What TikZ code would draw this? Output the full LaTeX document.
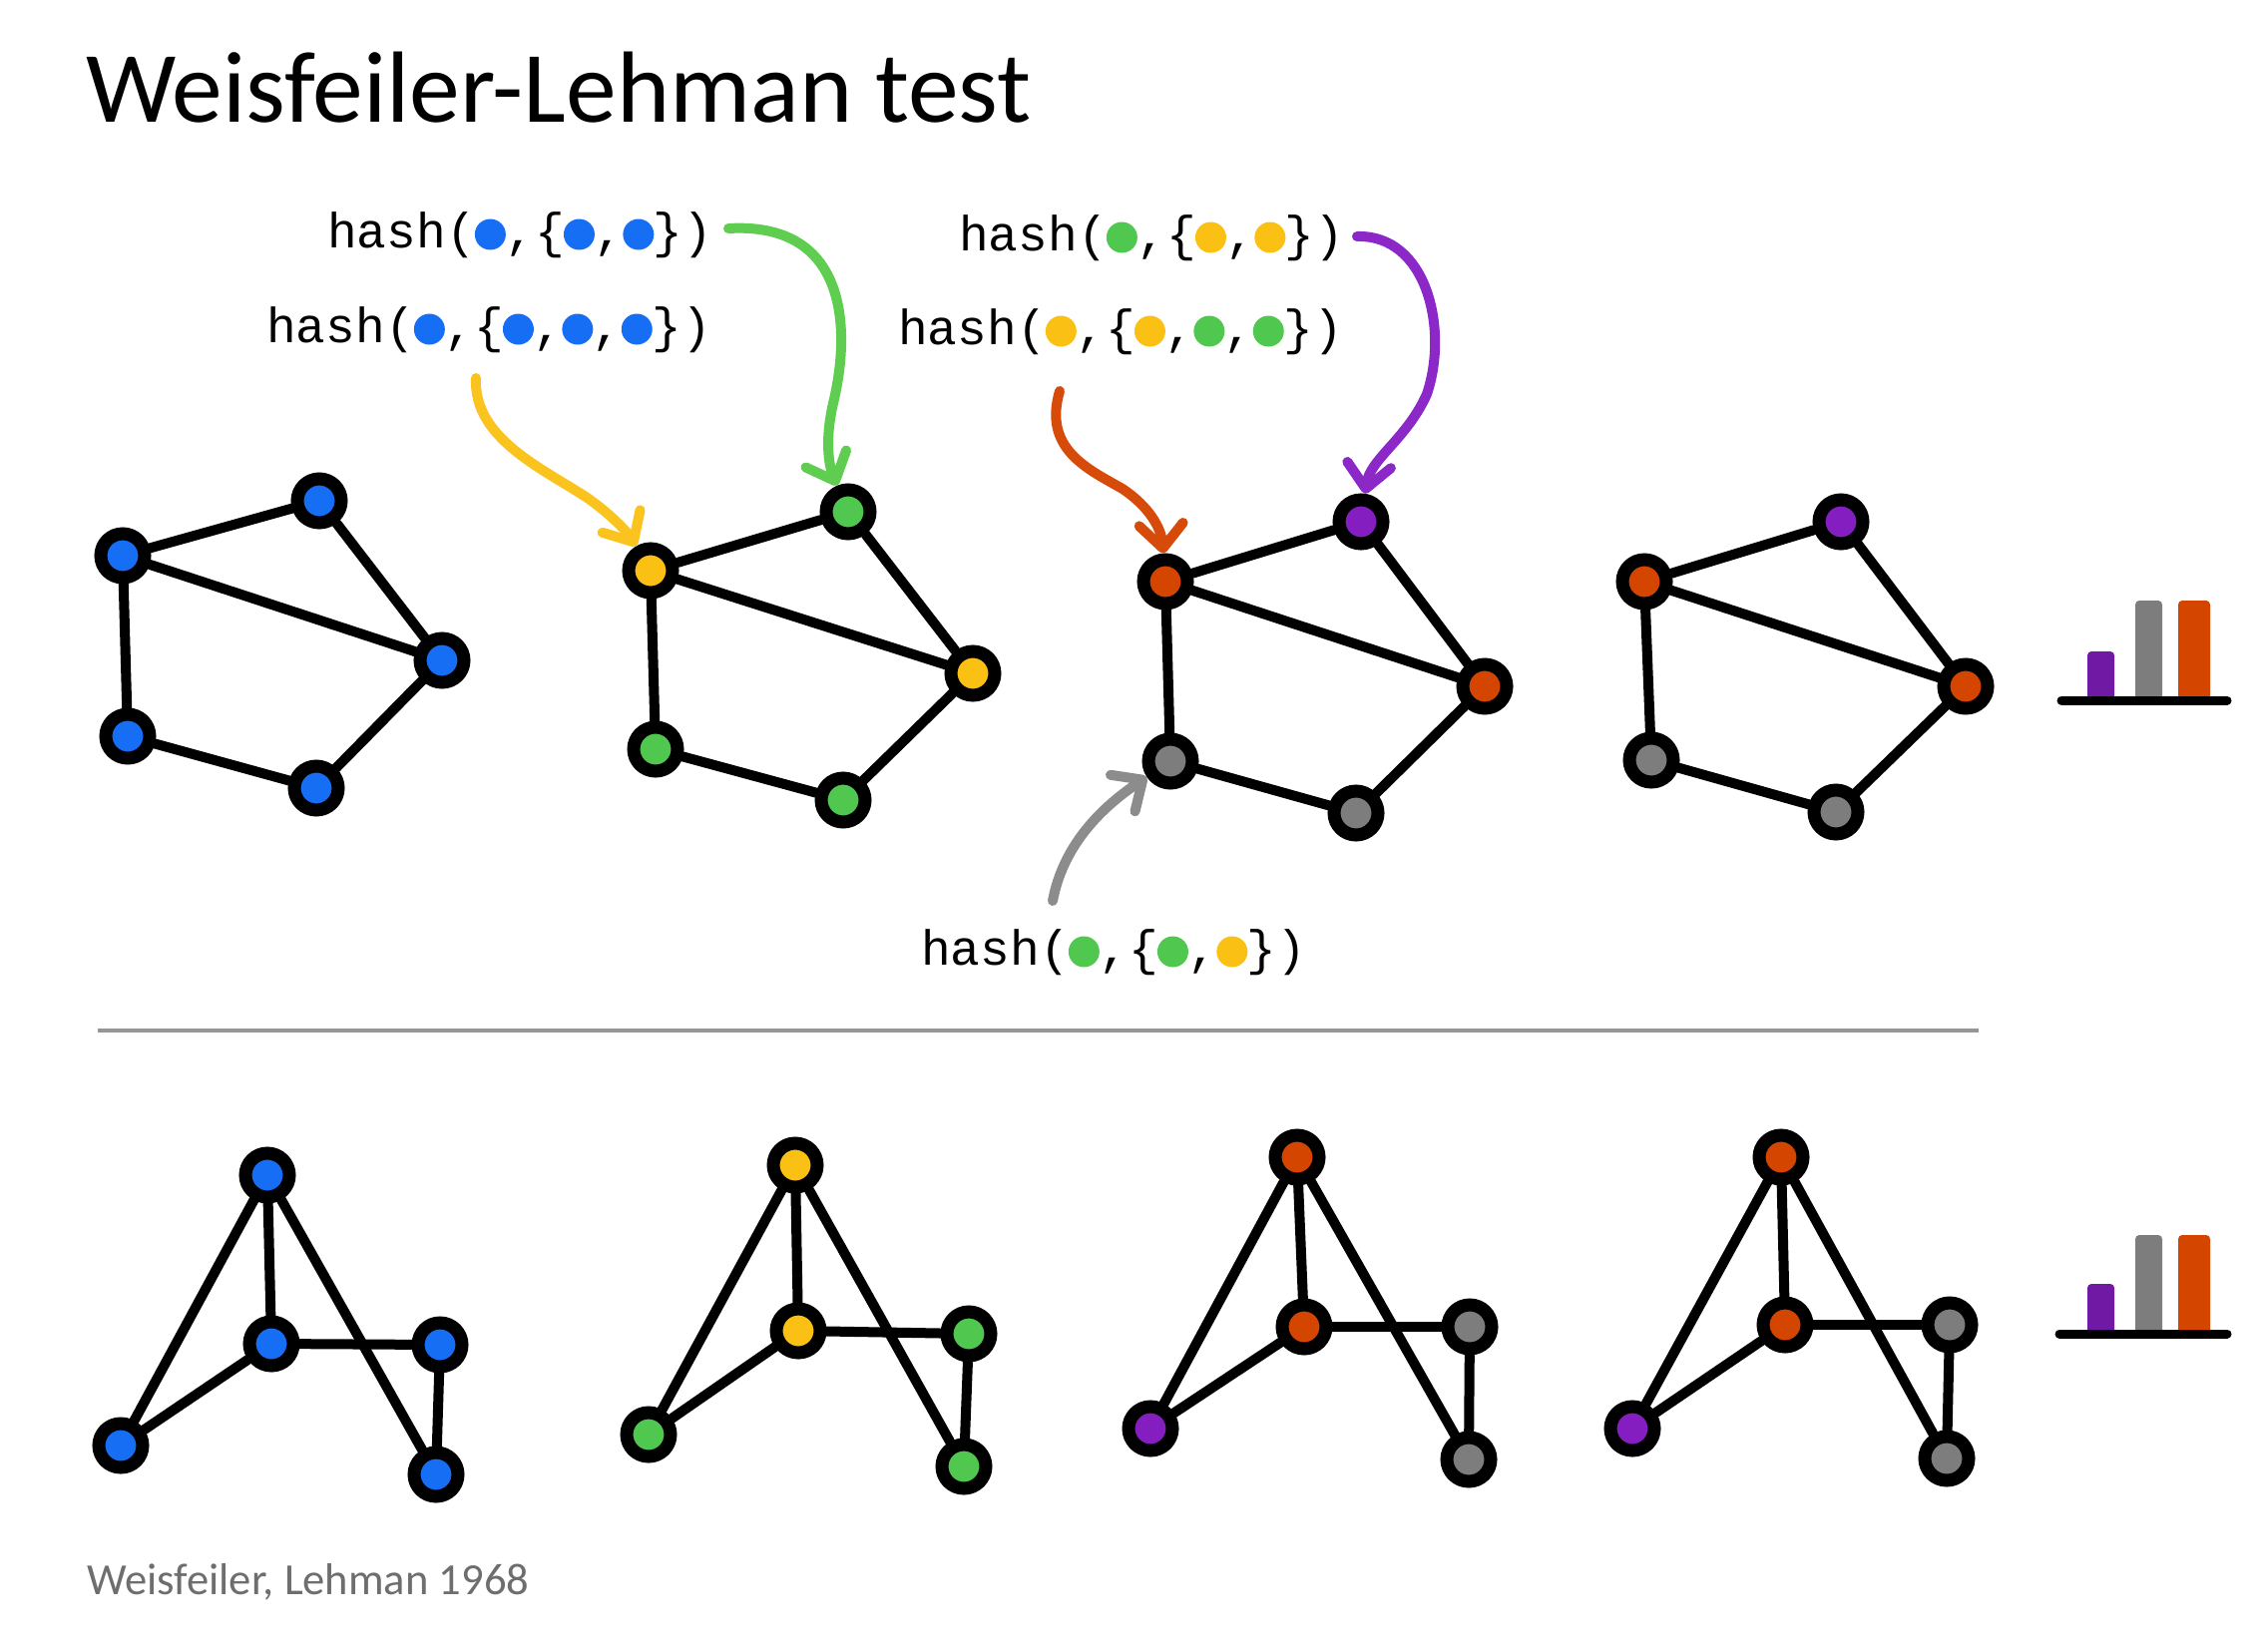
\documentclass[tikz,border=0pt]{standalone}
\usepackage{fontspec}
\setmainfont{Carlito}
\newfontfamily\handfont{Liberation Mono}
\usetikzlibrary{arrows.meta}
\definecolor{cblue}{RGB}{22,110,245}
\definecolor{cyellow}{RGB}{250,192,20}
\definecolor{cgreen}{RGB}{80,200,80}
\definecolor{corange}{RGB}{212,70,0}
\definecolor{cpurple}{RGB}{132,30,192}
\definecolor{cgray}{RGB}{125,125,125}
\definecolor{bpurple}{RGB}{112,25,165}
\definecolor{agreen}{RGB}{95,205,80}
\definecolor{ayellow}{RGB}{250,195,30}
\definecolor{aorange}{RGB}{215,75,10}
\definecolor{apurple}{RGB}{140,40,200}
\definecolor{agray}{RGB}{140,140,140}
\definecolor{footgray}{RGB}{110,110,110}
\definecolor{divgray}{RGB}{150,150,150}
\newcommand\hdot[3]{\fill[#3] ([shift={(#2*29.7+14.85,-13)}]#1.base west) circle (15.5);}
\newcommand\ph{\hphantom{o}}
\begin{document}
\begin{tikzpicture}[x=1pt,y=-1pt,
  gn/.style={circle,draw=black,line width=13pt,minimum size=44pt,inner sep=0pt},
  edge/.style={line width=10pt,line cap=round},
  hasharrow/.style={line width=10pt,line cap=round,line join=round,
    -{Straight Barb[length=24pt,width=44pt,line cap=round,line join=round]}},
  hashlabel/.style={anchor=base west,inner sep=0pt,font=\handfont\fontsize{49.5}{50}\selectfont},
  barstyle/.style={rounded corners=4pt},
]
\useasboundingbox (0,0) rectangle (2266,1656);

% title and footer
\node[anchor=base west,inner sep=0pt,font=\fontsize{101.5}{120}\selectfont] (title) at (86,123) {Weisfeiler-Lehman test};
\node[anchor=base west,inner sep=0pt,font=\fontsize{44.6}{50}\selectfont,text=footgray] (foot) at (87,1598) {Weisfeiler, Lehman 1968};

% ---------- top row graphs ----------
% graph 1
\node[gn,fill=cblue] (t1a) at (123,557) {};
\node[gn,fill=cblue] (t1b) at (320,502) {};
\node[gn,fill=cblue] (t1c) at (443,662) {};
\node[gn,fill=cblue] (t1d) at (128,738) {};
\node[gn,fill=cblue] (t1e) at (317,790) {};
% graph 2
\node[gn,fill=cyellow] (t2a) at (652,572) {};
\node[gn,fill=cgreen]  (t2b) at (850,513) {};
\node[gn,fill=cyellow] (t2c) at (975,675) {};
\node[gn,fill=cgreen]  (t2d) at (657,751) {};
\node[gn,fill=cgreen]  (t2e) at (845,802) {};
% graph 3
\node[gn,fill=corange] (t3a) at (1168,583) {};
\node[gn,fill=cpurple] (t3b) at (1364,523) {};
\node[gn,fill=corange] (t3c) at (1488,688) {};
\node[gn,fill=cgray]   (t3d) at (1173,763) {};
\node[gn,fill=cgray]   (t3e) at (1359,815) {};
% graph 4
\node[gn,fill=corange] (t4a) at (1648,583) {};
\node[gn,fill=cpurple] (t4b) at (1845,523) {};
\node[gn,fill=corange] (t4c) at (1970,688) {};
\node[gn,fill=cgray]   (t4d) at (1655,762) {};
\node[gn,fill=cgray]   (t4e) at (1840,814) {};

\foreach \g in {1,2,3,4}{
  \draw[edge] (t\g a) -- (t\g b);
  \draw[edge] (t\g b) -- (t\g c);
  \draw[edge] (t\g a) -- (t\g c);
  \draw[edge] (t\g a) -- (t\g d);
  \draw[edge] (t\g d) -- (t\g e);
  \draw[edge] (t\g e) -- (t\g c);
}

% ---------- bottom row graphs ----------
\node[gn,fill=cblue] (b1t) at (268,1178) {};
\node[gn,fill=cblue] (b1m) at (272,1347) {};
\node[gn,fill=cblue] (b1r) at (441,1348) {};
\node[gn,fill=cblue] (b1l) at (121,1449) {};
\node[gn,fill=cblue] (b1s) at (437,1478) {};

\node[gn,fill=cyellow] (b2t) at (797,1168) {};
\node[gn,fill=cyellow] (b2m) at (800,1334) {};
\node[gn,fill=cgreen]  (b2r) at (971,1337) {};
\node[gn,fill=cgreen]  (b2l) at (650,1438) {};
\node[gn,fill=cgreen]  (b2s) at (966,1470) {};

\node[gn,fill=corange] (b3t) at (1300,1160) {};
\node[gn,fill=corange] (b3m) at (1307,1330) {};
\node[gn,fill=cgray]   (b3r) at (1473,1330) {};
\node[gn,fill=cpurple] (b3l) at (1153,1432) {};
\node[gn,fill=cgray]   (b3s) at (1472,1463) {};

\node[gn,fill=corange] (b4t) at (1785,1160) {};
\node[gn,fill=corange] (b4m) at (1789,1328) {};
\node[gn,fill=cgray]   (b4r) at (1954,1328) {};
\node[gn,fill=cpurple] (b4l) at (1636,1432) {};
\node[gn,fill=cgray]   (b4s) at (1951,1462) {};

\foreach \g in {1,2,3,4}{
  \draw[edge] (b\g t) -- (b\g m);
  \draw[edge] (b\g t) -- (b\g l);
  \draw[edge] (b\g t) -- (b\g s);
  \draw[edge] (b\g m) -- (b\g l);
  \draw[edge] (b\g m) -- (b\g r);
  \draw[edge] (b\g r) -- (b\g s);
}

% ---------- hash labels ----------
\node[hashlabel] (h1) at (328,248) {hash(\ph,\{\ph,\ph\})};
\hdot{h1}{5}{cblue}\hdot{h1}{8}{cblue}\hdot{h1}{10}{cblue}
\node[hashlabel] (h2) at (267,343) {hash(\ph,\{\ph,\ph,\ph\})};
\hdot{h2}{5}{cblue}\hdot{h2}{8}{cblue}\hdot{h2}{10}{cblue}\hdot{h2}{12}{cblue}
\node[hashlabel] (h3) at (961,251) {hash(\ph,\{\ph,\ph\})};
\hdot{h3}{5}{cgreen}\hdot{h3}{8}{cyellow}\hdot{h3}{10}{cyellow}
\node[hashlabel] (h4) at (900,345) {hash(\ph,\{\ph,\ph,\ph\})};
\hdot{h4}{5}{cyellow}\hdot{h4}{8}{cyellow}\hdot{h4}{10}{cgreen}\hdot{h4}{12}{cgreen}
\node[hashlabel] (h5) at (923,967) {hash(\ph,\{\ph,\ph\})};
\hdot{h5}{5}{cgreen}\hdot{h5}{8}{cgreen}\hdot{h5}{10}{cyellow}

% ---------- arrows ----------
\coordinate (gs) at (730,229);
\coordinate (ys) at (477,379);
\coordinate (os) at (1062,392);
\coordinate (ps) at (1360,237);
\coordinate (ks) at (1055,903);
\draw[hasharrow,agreen] (gs) .. controls (850,222) and (852,330) .. (836,400)
  .. controls (825,445) and (832,470) .. (t2b);
\draw[hasharrow,ayellow] (ys) .. controls (474,440) and (545,470) .. (590,500)
  .. controls (615,518) and (630,535) .. (t2a);
\draw[hasharrow,aorange] (os) .. controls (1045,450) and (1090,470) .. (1125,490)
  .. controls (1152,508) and (1164,530) .. (t3a);
\draw[hasharrow,apurple] (ps) .. controls (1430,235) and (1452,330) .. (1430,395)
  .. controls (1410,440) and (1373,460) .. (t3b);
\draw[hasharrow,agray] (ks) .. controls (1065,850) and (1100,812) .. (t3d);

% ---------- divider ----------
\coordinate (dl) at (98,1033);
\coordinate (dr) at (1983,1033);
\draw[divgray,line width=4pt] (dl) -- (dr);

% ---------- bar charts ----------
\fill[bpurple,barstyle] (2092,653) rectangle (2119,702);
\fill[cgray,barstyle]   (2140,602) rectangle (2167,702);
\fill[corange,barstyle] (2183,602) rectangle (2215,702);
\draw[line width=9pt,line cap=round] (2066,702) -- (2232,702);

\fill[bpurple,barstyle] (2092,1287) rectangle (2119,1337);
\fill[cgray,barstyle]   (2140,1238) rectangle (2167,1337);
\fill[corange,barstyle] (2183,1238) rectangle (2215,1337);
\draw[line width=9pt,line cap=round] (2064,1337) -- (2232,1337);
\end{tikzpicture}
\end{document}
